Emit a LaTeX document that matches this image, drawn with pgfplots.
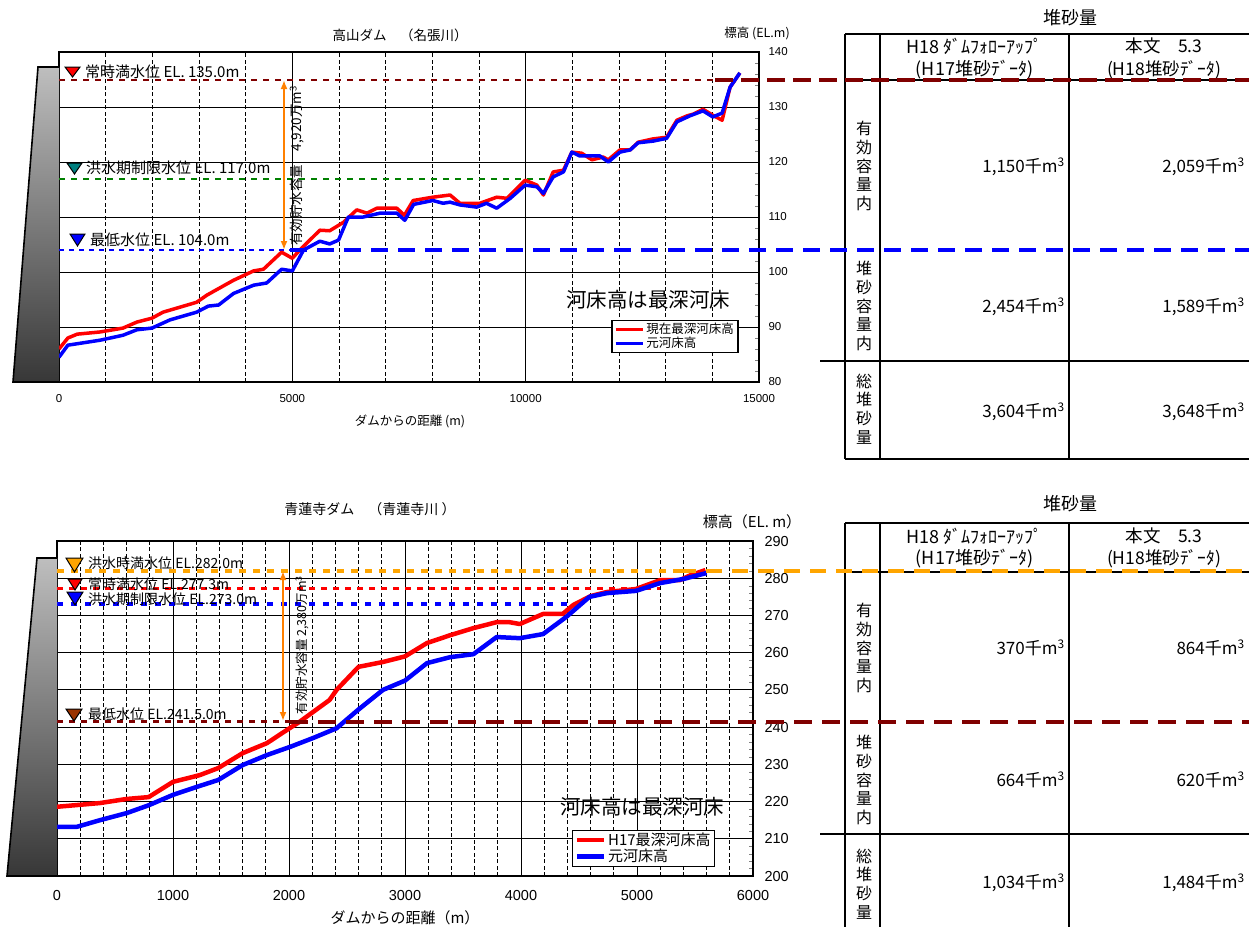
\documentclass[border=0pt]{standalone}
\usepackage{pgfplots}
\pgfplotsset{compat=1.18}
\usetikzlibrary{arrows.meta}
\usepackage{fontspec}
\setmainfont{Noto Sans CJK JP}
\newfontfamily\arial{Liberation Sans}
\newcommand{\fs}[1]{\fontsize{#1}{#1}\selectfont}
\definecolor{dred}{RGB}{128,0,0}
\definecolor{lgreen}{RGB}{0,128,0}
\definecolor{tealmk}{RGB}{0,128,128}
\definecolor{lorange}{RGB}{255,165,0}
\definecolor{arrowor}{RGB}{255,128,0}
\definecolor{brownmk}{RGB}{153,51,0}
\definecolor{damtop}{RGB}{190,190,190}
\definecolor{dambot}{RGB}{55,55,55}

% river-bed profiles (distance from dam [m], elevation [EL.m])
\pgfplotstableread{
x y
0 86.0
190 88.0
390 88.7
880 89.1
1370 89.8
1670 90.9
1990 91.6
2230 92.7
2950 94.5
3170 95.8
3740 98.5
4170 100.2
4380 100.5
4770 103.6
5000 102.5
5160 104.0
5590 107.6
5800 107.5
6090 109.0
6380 111.3
6600 110.7
6810 111.6
7240 111.6
7400 110.3
7590 113.0
8010 113.6
8380 114.0
8590 112.5
9020 112.5
9380 113.6
9600 113.4
9990 116.7
10240 115.8
10380 114.0
10590 118.2
10810 118.5
10990 121.8
11200 121.6
11420 120.4
11660 120.9
11770 120.4
12020 122.2
12240 122.2
12410 123.6
12730 124.2
13020 124.5
13240 127.6
13460 128.4
13590 128.7
13800 129.6
14010 128.5
14210 127.6
14380 133.6
14590 136.2
}\takayamaNow
\pgfplotstableread{
x y
0 84.5
190 86.7
880 87.6
1370 88.5
1670 89.5
1990 89.8
2380 91.3
2950 92.7
3200 93.8
3420 94.0
3740 96.1
4170 97.6
4450 98.0
4770 100.5
5000 100.2
5240 104.0
5590 105.6
5800 105.1
5990 105.8
6200 110.0
6520 110.0
6880 110.7
7240 110.7
7410 109.4
7600 112.3
8010 113.0
8230 112.5
8380 112.7
8590 112.2
8950 111.8
9160 112.5
9380 111.6
9670 113.4
9990 115.8
10240 115.5
10380 114.3
10590 117.3
10810 118.2
10990 121.8
11160 121.1
11590 121.1
11770 120.0
12020 121.8
12240 122.2
12410 123.5
12730 123.8
13020 124.3
13240 127.3
13520 128.4
13800 129.3
14010 128.2
14210 128.9
14380 133.6
14590 136.2
}\takayamaOrig
\pgfplotstableread{
x y
0 218.6
370 219.6
600 220.7
790 221.2
1000 225.3
1230 227.1
1390 229.0
1600 233.0
1810 235.7
1980 239.2
2090 241.4
2350 247.3
2410 250.0
2600 256.2
2810 257.5
3000 259.0
3190 262.6
3390 264.7
3590 266.6
3790 268.2
3900 268.2
3990 267.7
4190 270.4
4360 270.4
4450 272.8
4600 275.2
4740 276.3
4990 277.1
5200 279.5
5370 279.5
5460 280.8
5590 282.2
}\shorenjiNow
\pgfplotstableread{
x y
0 213.2
170 213.2
370 215.0
600 216.9
790 219.0
1000 221.8
1200 223.9
1390 225.8
1600 229.8
1810 232.5
2010 234.7
2210 237.1
2410 239.7
2590 244.5
2810 250.0
3000 252.5
3190 257.2
3390 258.8
3590 259.6
3790 264.2
3990 263.9
4190 265.0
4390 269.6
4590 275.0
4740 276.0
4990 276.6
5200 278.7
5400 279.8
5600 281.4
}\shorenjiOrig

\pgfplotsset{
  damaxis/.style={
    scale only axis, clip=false,
    xmajorgrids, xminorgrids, ymajorgrids,
    major grid style={black, line width=0.9pt},
    minor grid style={black, line width=0.9pt, dash pattern=on 4pt off 2.5pt},
    axis line style={black, line width=1.3pt},
    ytick pos=right, tick align=inside,
    major tick length=0pt, minor tick length=4pt,
    xtick style={draw=none},
    scaled x ticks=false, scaled y ticks=false,
    /pgf/number format/assume math mode=true,
    /pgf/number format/1000 sep={},
    legend cell align=left,
    legend image code/.code={\draw[##1] (0pt,0pt) -- (27pt,0pt);},
  },
}

\begin{document}
\begin{tikzpicture}
\useasboundingbox (0,0) rectangle (1249pt,-926pt);
\clip (0,0) rectangle (1249pt,-926pt);

% ---------- sediment tables ----------
\begin{scope}[x=1pt,y=-1pt,line width=2pt]
  % upper table
  \node[font=\fs{18}] at (1070,18) {堆砂量};
  \draw (845,34) -- (1262,34);
  \draw (845,80) -- (1262,80);
  \draw (820,361) -- (1262,361);
  \draw (845,459) -- (1262,459);
  \draw (845,34) -- (845,459);
  \draw (880,34) -- (880,459);
  \draw (1069,34) -- (1069,459);
  \node[font=\fs{18}] at (974.5,46) {H18 ﾀﾞﾑﾌｫﾛｰｱｯﾌﾟ};
  \node[font=\fs{18}] at (974.5,70) {(H17堆砂ﾃﾞｰﾀ)};
  \node[font=\fs{17.5}] at (1164,46) {本文　5.3};
  \node[font=\fs{17.5}] at (1164,70) {(H18堆砂ﾃﾞｰﾀ)};
  \node[align=center,font=\fontsize{16}{18.7}\selectfont] at (864,166) {有\\効\\容\\量\\内};
  \node[align=center,font=\fontsize{16}{18.7}\selectfont] at (864,306) {堆\\砂\\容\\量\\内};
  \node[align=center,font=\fontsize{16}{18.7}\selectfont] at (864,409) {総\\堆\\砂\\量};
  \node[anchor=east,font=\fs{17}] at (1069,167) {1,150千m\textsuperscript{3}};
  \node[anchor=east,font=\fs{17}] at (1069,307) {2,454千m\textsuperscript{3}};
  \node[anchor=east,font=\fs{17}] at (1069,412) {3,604千m\textsuperscript{3}};
  \node[anchor=east,font=\fs{17}] at (1249,167) {2,059千m\textsuperscript{3}};
  \node[anchor=east,font=\fs{17}] at (1249,307) {1,589千m\textsuperscript{3}};
  \node[anchor=east,font=\fs{17}] at (1249,412) {3,648千m\textsuperscript{3}};
  % lower table
  \node[font=\fs{18}] at (1070,504) {堆砂量};
  \draw (845,523) -- (1262,523);
  \draw (845,572) -- (1262,572);
  \draw (820,834) -- (1262,834);
  \draw (845,523) -- (845,930);
  \draw (880,523) -- (880,930);
  \draw (1069,523) -- (1069,930);
  \node[font=\fs{18}] at (974.5,536) {H18 ﾀﾞﾑﾌｫﾛｰｱｯﾌﾟ};
  \node[font=\fs{18}] at (974.5,559) {(H17堆砂ﾃﾞｰﾀ)};
  \node[font=\fs{17.5}] at (1164,536) {本文　5.3};
  \node[font=\fs{17.5}] at (1164,559) {(H18堆砂ﾃﾞｰﾀ)};
  \node[align=center,font=\fontsize{16}{18.7}\selectfont] at (864,648) {有\\効\\容\\量\\内};
  \node[align=center,font=\fontsize{16}{18.7}\selectfont] at (864,780) {堆\\砂\\容\\量\\内};
  \node[align=center,font=\fontsize{16}{18.7}\selectfont] at (864,884) {総\\堆\\砂\\量};
  \node[anchor=east,font=\fs{17}] at (1069,648) {370千m\textsuperscript{3}};
  \node[anchor=east,font=\fs{17}] at (1069,780) {664千m\textsuperscript{3}};
  \node[anchor=east,font=\fs{17}] at (1069,883) {1,034千m\textsuperscript{3}};
  \node[anchor=east,font=\fs{17}] at (1249,648) {864千m\textsuperscript{3}};
  \node[anchor=east,font=\fs{17}] at (1249,780) {620千m\textsuperscript{3}};
  \node[anchor=east,font=\fs{17}] at (1249,883) {1,484千m\textsuperscript{3}};
\end{scope}

% ---------- 高山ダム ----------
\begin{axis}[damaxis,
  at={(59pt,-382pt)}, anchor=south west,
  width=700pt, height=330pt,
  xmin=0, xmax=15000, ymin=80, ymax=140,
  xtick={0,5000,10000,15000}, minor x tick num=4,
  ytick={80,90,...,140}, minor y tick num=4,
  tick label style={font=\arial\fs{11.5}},
  xticklabel style={yshift=-9pt},
  yticklabel style={xshift=6pt},
  legend style={at={(0.789,0.088)}, anchor=south west, draw=black,
    line width=1.2pt, font=\fs{12.5}, inner xsep=2pt, inner ysep=1pt,
    row sep=-2pt},
]
  \draw[dred, line width=2pt, dash pattern=on 6pt off 6pt] (axis cs:0,135) -- (axis cs:14060,135);
  \draw[lgreen, line width=2pt, dash pattern=on 6pt off 6pt] (axis cs:0,117) -- (axis cs:10480,117);
  \draw[blue, line width=2pt, dash pattern=on 5pt off 5pt] (axis cs:0,104) -- (axis cs:4950,104);
  \addplot[red, line width=3.5pt, line join=round] table[x=x,y=y] {\takayamaNow};
  \addlegendentry{現在最深河床高}
  \addplot[blue, line width=3.5pt, line join=round] table[x=x,y=y] {\takayamaOrig};
  \addlegendentry{元河床高}
\end{axis}

% ---------- 青蓮寺ダム ----------
\begin{axis}[damaxis,
  at={(57pt,-876pt)}, anchor=south west,
  width=696pt, height=335pt,
  xmin=0, xmax=6000, ymin=200, ymax=290,
  xtick={0,1000,...,6000}, minor x tick num=4,
  ytick={200,210,...,290}, minor y tick num=4,
  tick label style={font=\arial\fs{14.5}},
  xticklabel style={yshift=-11pt},
  yticklabel style={xshift=8pt},
  legend style={at={(0.74,0.027)}, anchor=south west, draw=black,
    line width=1.2pt, font=\fs{15}, inner xsep=2pt, inner ysep=1pt,
    row sep=-2pt},
]
  \draw[lorange, line width=4pt, dash pattern=on 7pt off 7pt] (axis cs:0,282) -- (axis cs:5370,282);
  \draw[red, line width=2.5pt, dash pattern=on 6pt off 6pt] (axis cs:0,277.3) -- (axis cs:5200,277.3);
  \draw[blue, line width=4pt, dash pattern=on 6pt off 8pt] (axis cs:0,273) -- (axis cs:4420,273);
  \draw[dred, line width=2.5pt, dash pattern=on 6pt off 6pt] (axis cs:0,241.5) -- (axis cs:2010,241.5);
  \addplot[red, line width=4.5pt, line join=round] table[x=x,y=y] {\shorenjiNow};
  \addlegendentry{H17最深河床高}
  \addplot[blue, line width=4.5pt, line join=round] table[x=x,y=y] {\shorenjiOrig};
  \addlegendentry{元河床高}
\end{axis}

% ---------- annotations ----------
\begin{scope}[x=1pt,y=-1pt]
  % upper chart
  \shade[top color=damtop, bottom color=dambot] (38,67) -- (59,67) -- (59,382) -- (13,382) -- cycle;
  \draw[line width=1.6pt] (59,67) -- (38,67) -- (13,382) -- (59,382);
  \node[font=\fs{13.5}] at (400,35) {高山ダム　（名張川）};
  \node[font=\fs{12.5}] at (757,33) {標高 (EL.m)};
  \node[font=\fs{12.5}] at (410,421) {ダムからの距離 (m)};
  \filldraw[fill=red, draw=black, line width=1pt] (65,67) -- (80,67) -- (72.5,77) -- cycle;
  \filldraw[fill=tealmk, draw=black, line width=1pt] (67,163) -- (82,163) -- (74.5,174) -- cycle;
  \filldraw[fill=blue, draw=black, line width=1pt] (70,234) -- (85,234) -- (77.5,246) -- cycle;
  \node[anchor=west, font=\fs{15}, inner sep=0pt] at (85,72) {常時満水位 EL. 135.0m};
  \node[anchor=west, font=\fs{15}, inner sep=0pt] at (86,168) {洪水期制限水位 EL. 117.0m};
  \node[anchor=west, font=\fs{15}, inner sep=0pt] at (90,240) {最低水位 EL. 104.0m};
  \draw[arrowor, line width=2pt, {Latex[length=9pt,width=7pt]}-{Latex[length=9pt,width=7pt]}] (284,80) -- (284,250);
  \node[rotate=90, font=\fs{13.5}] at (297,166) {有効貯水容量　4,920万m\textsuperscript{3}};
  \node[font=\fs{20.5}] at (648,300) {河床高は最深河床};
  \draw[dred, line width=4pt, dash pattern=on 18pt off 8pt] (715,80) -- (1262,80);
  \draw[blue, line width=4pt, dash pattern=on 17pt off 10pt] (290,250) -- (1262,250);

  % lower chart
  \shade[top color=damtop, bottom color=dambot] (37,558) -- (57,558) -- (57,876) -- (7,876) -- cycle;
  \draw[line width=1.6pt] (57,558) -- (37,558) -- (7,876) -- (57,876);
  \node[font=\fs{14}] at (370,509) {青蓮寺ダム　（青蓮寺川 ）};
  \node[font=\fs{15}] at (752,522) {標高（EL. m）};
  \node[font=\fs{15}] at (405,918) {ダムからの距離（m）};
  \filldraw[fill=lorange, draw=black, line width=1pt] (66,558) -- (83,558) -- (74.5,572) -- cycle;
  \filldraw[fill=red, draw=black, line width=1pt] (68,579) -- (82,579) -- (75,590) -- cycle;
  \filldraw[fill=blue, draw=black, line width=1pt] (67,592) -- (83,592) -- (75,605) -- cycle;
  \filldraw[fill=brownmk, draw=black, line width=1pt] (66,709) -- (82,709) -- (74,721) -- cycle;
  \node[anchor=west, font=\fs{14}, inner sep=0pt] at (88,563) {洪水時満水位 EL.282.0m};
  \node[anchor=west, font=\fs{14}, inner sep=0pt] at (88,584) {常時満水位 EL.277.3m};
  \node[anchor=west, font=\fs{14}, inner sep=0pt] at (88,599) {洪水期制限水位 EL.273.0m};
  \node[anchor=west, font=\fs{14}, inner sep=0pt] at (88,714) {最低水位 EL.241.5.0m};
  \draw[arrowor, line width=2pt, {Latex[length=9pt,width=7pt]}-{Latex[length=9pt,width=7pt]}] (283,571) -- (283,721);
  \node[rotate=90, font=\fs{12.5}] at (302,645) {有効貯水容量 2,380万m\textsuperscript{3}};
  \node[font=\fs{20.5}] at (642,807) {河床高は最深河床};
  \draw[lorange, line width=4pt, dash pattern=on 16pt off 10pt] (680,571) -- (1262,571);
  \draw[dred, line width=4pt, dash pattern=on 18pt off 10pt] (290,721.5) -- (1262,721.5);
\end{scope}
\end{tikzpicture}
\end{document}
